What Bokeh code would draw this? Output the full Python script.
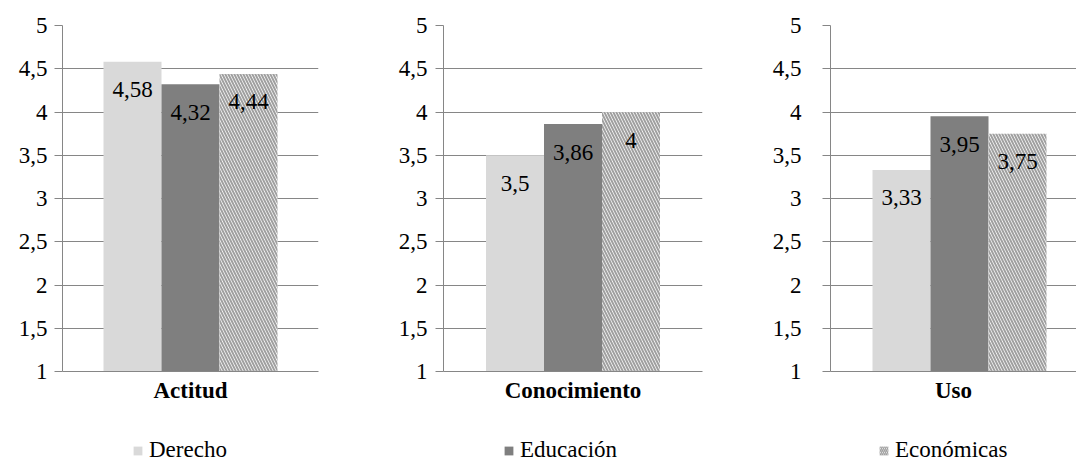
from bokeh.plotting import figure
from bokeh.models import (FactorRange, Range1d, FixedTicker, CustomJSTickFormatter,
                          ColumnDataSource, Legend, LegendItem)
from bokeh.transform import dodge
from bokeh.layouts import row, column
from bokeh.core.properties import value
from bokeh.embed import file_html
from bokeh.resources import INLINE

# ---- data ----
categories = ["Actitud", "Conocimiento", "Uso"]
series_names = ["Derecho", "Educación", "Económicas"]
derecho = [4.58, 3.5, 3.33]
educacion = [4.32, 3.86, 3.95]
economicas = [4.44, 4.0, 3.75]
y_ticks = [1, 1.5, 2, 2.5, 3, 3.5, 4, 4.5, 5]

# ---- styles ----
FONT = "Liberation Serif"
FS = "23px"
AX = "#868686"
C_DER = "#d9d9d9"
C_EDU = "#7f7f7f"
HATCH_C = "#a0a0a0"


def fmt(v):
    return f"{v:g}".replace(".", ",")


# (fig width, left border, right border, x shift px)
layout_cfg = [(360, 62, 42, 0), (360, 83, 18, 0), (356, 110, 0, 6)]
standoffs = [7, 8, 21]

panels = []
for i, cat in enumerate(categories):
    W, lb, rb, shift = layout_cfg[i]
    frame_w = W - lb - rb
    bw = 58.0 / frame_w
    sh = shift / frame_w
    src = ColumnDataSource(dict(
        cat=[cat],
        der=[derecho[i]], edu=[educacion[i]], eco=[economicas[i]],
        der_l=[fmt(derecho[i])], edu_l=[fmt(educacion[i])], eco_l=[fmt(economicas[i])],
    ))
    p = figure(width=W, height=410, x_range=FactorRange(factors=[cat]),
               y_range=Range1d(1, 5), output_backend="svg", toolbar_location=None,
               min_border_left=lb, min_border_right=rb, min_border_top=25,
               min_border_bottom=39)
    p.outline_line_color = None
    p.background_fill_color = "white"
    p.border_fill_color = "white"
    p.xgrid.grid_line_color = None
    p.ygrid.ticker = FixedTicker(ticks=y_ticks)
    p.ygrid.grid_line_color = AX
    p.ygrid.grid_line_width = 1

    yax = p.yaxis[0]
    yax.ticker = FixedTicker(ticks=y_ticks)
    yax.formatter = CustomJSTickFormatter(code="return String(tick).replace('.', ',');")
    yax.axis_line_color = AX
    yax.major_tick_line_color = AX
    yax.major_tick_out = 8
    yax.major_tick_in = 0
    yax.minor_tick_line_color = None
    yax.major_label_text_font = FONT
    yax.major_label_text_font_size = FS
    yax.major_label_text_color = "black"
    yax.major_label_standoff = standoffs[i]

    xax = p.xaxis[0]
    xax.axis_line_color = AX
    xax.major_tick_line_color = None
    xax.minor_tick_line_color = None
    xax.major_label_text_font = FONT
    xax.major_label_text_font_size = FS
    xax.major_label_text_font_style = "bold"
    xax.major_label_text_color = "black"
    xax.major_label_standoff = 0

    offs = [-bw + sh, sh, bw + sh]
    p.vbar(x=dodge("cat", offs[0], range=p.x_range), top="der", bottom=1, width=bw,
           source=src, fill_color=C_DER, line_color=None)
    p.vbar(x=dodge("cat", offs[1], range=p.x_range), top="edu", bottom=1, width=bw,
           source=src, fill_color=C_EDU, line_color=None)
    p.vbar(x=dodge("cat", offs[2], range=p.x_range), top="eco", bottom=1, width=bw,
           source=src, fill_color="white", line_color=None,
           hatch_pattern="\\", hatch_color=HATCH_C, hatch_scale=6, hatch_weight=2)

    for col, lab, o in [("der", "der_l", offs[0]), ("edu", "edu_l", offs[1]),
                        ("eco", "eco_l", offs[2])]:
        p.text(x=dodge("cat", o, range=p.x_range), y=col, text=lab, source=src,
               y_offset=28, text_align="center", text_baseline="middle",
               text_font=value(FONT), text_font_size=FS, text_color="black")
    panels.append(p)

# ---- legend strip ----
lf = figure(width=1076, height=53, x_range=Range1d(0, 1), y_range=Range1d(0, 1),
            output_backend="svg", toolbar_location=None,
            x_axis_location=None, y_axis_location=None,
            min_border_left=0, min_border_right=0, min_border_top=0, min_border_bottom=0)
lf.outline_line_color = None
lf.xgrid.grid_line_color = None
lf.ygrid.grid_line_color = None
# legend key renderers, kept outside the visible range (only their legend glyphs show)
key_src = ColumnDataSource(dict(x=[-5.0], top=[-5.0]))
r1 = lf.vbar(x="x", top="top", bottom=-6, width=0.1, source=key_src,
             fill_color=C_DER, line_color=None)
r2 = lf.vbar(x="x", top="top", bottom=-6, width=0.1, source=key_src,
             fill_color=C_EDU, line_color=None)
r3 = lf.vbar(x="x", top="top", bottom=-6, width=0.1, source=key_src,
             fill_color="white", line_color=None,
             hatch_pattern="\\", hatch_color=HATCH_C, hatch_scale=4, hatch_weight=1.5)
legend_x = [132, 503, 878]
for name, r, lx in zip(series_names, [r1, r2, r3], legend_x):
    lg = Legend(items=[LegendItem(label=name, renderers=[r])], location=(lx, 0),
                padding=0, margin=0, spacing=0, label_standoff=6,
                glyph_width=11, glyph_height=11, label_height=20,
                label_text_font=FONT, label_text_font_size=FS,
                label_text_color="black", border_line_color=None,
                background_fill_alpha=0)
    lf.add_layout(lg)

layout = column(row(*panels, spacing=0), lf, spacing=0)
open("out.html", "w").write(file_html(layout, INLINE))
